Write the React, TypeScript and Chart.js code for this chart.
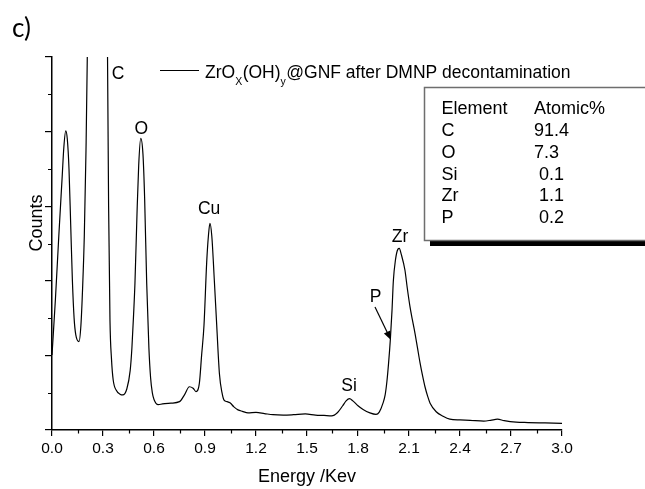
import React, { useEffect, useRef } from 'react';
import { Chart, registerables } from 'chart.js';

Chart.register(...registerables);

// Energy (keV) and counts (arbitrary units, axis 0..100)
const energy = [
  0.0, 0.02, 0.04, 0.06, 0.07, 0.081, 0.09, 0.1, 0.11, 0.12, 0.13, 0.14, 0.159,
  0.17, 0.18, 0.19, 0.2, 0.21, 0.23, 0.27, 0.31, 0.325, 0.333, 0.341, 0.35, 0.36, 0.38, 0.4, 0.416,
  0.44, 0.46, 0.47, 0.48, 0.488, 0.5, 0.51, 0.522, 0.535, 0.545, 0.557, 0.57, 0.58, 0.59, 0.6,
  0.625, 0.65, 0.7, 0.75, 0.78, 0.808, 0.83, 0.847, 0.867, 0.88, 0.894, 0.91, 0.92, 0.929,
  0.94, 0.955, 0.969, 0.985, 1.0, 1.012, 1.03, 1.047, 1.07, 1.094, 1.12, 1.153, 1.2, 1.25,
  1.3, 1.36, 1.42, 1.49, 1.55, 1.6, 1.645, 1.68, 1.71, 1.73, 1.75, 1.77, 1.8, 1.83, 1.87,
  1.906, 1.925, 1.947, 1.96, 1.97, 1.98, 1.99, 2.0, 2.008, 2.02, 2.035, 2.043, 2.055, 2.076,
  2.09, 2.106, 2.12, 2.135, 2.15, 2.165, 2.18, 2.194, 2.21, 2.224, 2.26, 2.3, 2.34, 2.4,
  2.46, 2.54, 2.58, 2.62, 2.66, 2.73, 2.8, 2.9, 3.0,
];
const counts = [
  20.1, 35, 52, 68, 76, 80.2, 78, 70, 55, 40, 30, 25.5, 23.7,
  28, 38, 52, 75, 108, 220, 420, 260, 110, 60, 29.5, 19, 13.4, 10.5, 9.6, 9.4,
  11, 16, 22, 31, 39.4, 58, 71, 78.2, 74, 62, 39.4, 22, 14, 10, 8.2,
  6.8, 7.0, 7.2, 7.6, 9.5, 11.6, 11.2, 10.3, 12.6, 20, 28, 45, 52, 55.4,
  52, 40, 28, 15, 10, 8.0, 7.6, 7.3, 6.2, 5.4, 5.0, 4.6, 4.7, 4.4,
  4.1, 4.0, 4.1, 4.3, 4.0, 3.9, 3.8, 4.7, 6.5, 7.8, 8.4, 7.8, 6.5, 5.5, 4.6,
  4.2, 4.8, 7.2, 9.5, 13, 18, 24.1, 32, 40, 45.5, 48.5, 48.7, 47, 42.9,
  38, 33, 29.5, 26, 22, 18, 14.5, 11.6, 9, 7.2, 4.9, 3.7, 2.9, 2.7,
  2.6, 2.4, 2.6, 2.9, 2.5, 2.1, 2.0, 1.9, 1.8,
];

const xMajorTicks = [0, 0.3, 0.6, 0.9, 1.2, 1.5, 1.8, 2.1, 2.4, 2.7, 3.0];
const xMinorTicks = [0.15, 0.45, 0.75, 1.05, 1.35, 1.65, 1.95, 2.25, 2.55, 2.85];
const yMinorTicks = [10, 30, 50, 70, 90];

// Peak annotations (energy, counts position of label centre)
const peakLabels = ['C', 'O', 'Cu', 'Si', 'Zr', 'P'];
const peakLabelX = [0.388, 0.526, 0.924, 1.747, 2.047, 1.903];
const peakLabelY = [95.4, 80.7, 59.2, 11.8, 51.7, 35.5];
// P arrow from / to (energy, counts)
const arrowFrom = [1.9, 33];
const arrowTo = [1.994, 24.1];

const tableHeader = ['Element', 'Atomic%'];
const tableElements = ['C', 'O', 'Si', 'Zr', 'P'];
const tableAtomic = ['91.4', '7.3', ' 0.1', ' 1.1', ' 0.2'];

const FONT = '"Liberation Sans", Arial, sans-serif';

const overlay = {
  id: 'overlay',
  afterDraw(chart: any) {
    const { ctx, chartArea, scales } = chart;
    const x = scales.x;
    const y = scales.y;
    ctx.save();
    ctx.strokeStyle = '#000';
    ctx.fillStyle = '#000';
    ctx.lineWidth = 1.2;
    // minor ticks
    ctx.beginPath();
    xMinorTicks.forEach((v) => {
      const px = Math.round(x.getPixelForValue(v)) + 0.5;
      ctx.moveTo(px, chartArea.bottom);
      ctx.lineTo(px, chartArea.bottom + 3.5);
    });
    yMinorTicks.forEach((v) => {
      const py = Math.round(y.getPixelForValue(v)) + 0.5;
      ctx.moveTo(chartArea.left, py);
      ctx.lineTo(chartArea.left - 4, py);
    });
    ctx.stroke();

    // peak labels
    ctx.font = `17.5px ${FONT}`;
    ctx.textAlign = 'center';
    ctx.textBaseline = 'middle';
    peakLabels.forEach((t, i) => {
      ctx.fillText(t, x.getPixelForValue(peakLabelX[i]), y.getPixelForValue(peakLabelY[i]));
    });

    // arrow for P
    const ax0 = x.getPixelForValue(arrowFrom[0]);
    const ay0 = y.getPixelForValue(arrowFrom[1]);
    const ax1 = x.getPixelForValue(arrowTo[0]);
    const ay1 = y.getPixelForValue(arrowTo[1]);
    const ang = Math.atan2(ay1 - ay0, ax1 - ax0);
    ctx.lineWidth = 1.2;
    ctx.beginPath();
    ctx.moveTo(ax0, ay0);
    ctx.lineTo(ax1 - 6 * Math.cos(ang), ay1 - 6 * Math.sin(ang));
    ctx.stroke();
    ctx.beginPath();
    ctx.moveTo(ax1, ay1);
    ctx.lineTo(ax1 - 9 * Math.cos(ang) + 3.5 * Math.sin(ang), ay1 - 9 * Math.sin(ang) - 3.5 * Math.cos(ang));
    ctx.lineTo(ax1 - 9 * Math.cos(ang) - 3.5 * Math.sin(ang), ay1 - 9 * Math.sin(ang) + 3.5 * Math.cos(ang));
    ctx.closePath();
    ctx.fill();

    // legend
    ctx.beginPath();
    ctx.moveTo(160, 70.5);
    ctx.lineTo(199, 70.5);
    ctx.stroke();
    ctx.textAlign = 'left';
    ctx.textBaseline = 'alphabetic';
    let lx = 205;
    const parts: [string, boolean][] = [
      ['ZrO', false], ['X', true], ['(OH)', false], ['y', true], ['@GNF after DMNP decontamination', false],
    ];
    parts.forEach(([t, sub]) => {
      ctx.font = sub ? `10.5px ${FONT}` : `17.5px ${FONT}`;
      ctx.fillText(t, lx, sub ? 84.5 : 77.5);
      lx += ctx.measureText(t).width + (sub ? 0.5 : 0);
    });

    // table box with shadow
    ctx.fillStyle = '#000';
    ctx.fillRect(430, 241, 220, 5);
    ctx.fillStyle = '#fff';
    ctx.fillRect(424, 87, 230, 153);
    ctx.strokeStyle = '#6e6e6e';
    ctx.lineWidth = 1.5;
    ctx.strokeRect(424.5, 87.5, 240, 153);
    ctx.fillStyle = '#000';
    ctx.font = `18px ${FONT}`;
    ctx.fillText(tableHeader[0], 441.5, 114);
    ctx.fillText(tableHeader[1], 534, 114);
    tableElements.forEach((e, i) => {
      const by = 136 + i * 21.8;
      ctx.fillText(e, 441.5, by);
      ctx.fillText(tableAtomic[i], 534, by);
    });

    // y axis title
    ctx.save();
    ctx.translate(42, 223);
    ctx.rotate(-Math.PI / 2);
    ctx.textAlign = 'center';
    ctx.textBaseline = 'alphabetic';
    ctx.font = `18px ${FONT}`;
    ctx.fillText('Counts', 0, 0);
    ctx.restore();

    // panel label
    ctx.font = `26px Lato, "Open Sans", sans-serif`;
    ctx.textAlign = 'left';
    ctx.fillText('c)', 12, 37);
    ctx.restore();
  },
};

export default function App() {
  const ref = useRef<HTMLCanvasElement | null>(null);
  useEffect(() => {
    if (!ref.current) return;
    const chart = new Chart(ref.current, {
      type: 'line',
      data: {
        datasets: [
          {
            data: energy.map((e, i) => ({ x: e, y: counts[i] })),
            borderColor: '#000',
            borderWidth: 1.2,
            pointRadius: 0,
            fill: false,
            cubicInterpolationMode: 'monotone',
          },
        ],
      },
      options: {
        responsive: false,
        animation: false,
        devicePixelRatio: 1,
        layout: { padding: { left: 0, top: 57, right: 83, bottom: 0 } },
        plugins: { legend: { display: false }, tooltip: { enabled: false }, title: { display: false } },
        scales: {
          x: {
            type: 'linear',
            min: 0,
            max: 3,
            afterFit: (s: any) => { s.height = 59; },
            afterBuildTicks: (s: any) => { s.ticks = xMajorTicks.map((v) => ({ value: v })); },
            ticks: {
              callback: (v: any) => Number(v).toFixed(1),
              color: '#000',
              font: { family: FONT, size: 15.5 },
              padding: 3,
              maxRotation: 0,
            },
            grid: { display: true, drawOnChartArea: false, drawTicks: true, tickLength: 6, color: '#000', lineWidth: 1.2 },
            border: { display: true, color: '#000', width: 1.5 },
            title: {
              display: true,
              text: 'Energy /Kev',
              color: '#000',
              font: { family: FONT, size: 18 },
              padding: { top: 0, bottom: 1 },
            },
          },
          y: {
            type: 'linear',
            min: 0,
            max: 100,
            afterFit: (s: any) => { s.width = 52; },
            ticks: { display: false, stepSize: 20 },
            grid: { display: true, drawOnChartArea: false, drawTicks: true, tickLength: 7, color: '#000', lineWidth: 1.2 },
            border: { display: true, color: '#000', width: 1.5 },
          },
        },
      },
      plugins: [overlay],
    });
    return () => chart.destroy();
  }, []);
  return (
    <div style={{ position: 'fixed', left: 0, top: 0, width: 645, height: 489, background: '#fff' }}>
      <canvas ref={ref} width={645} height={489} />
    </div>
  );
}
